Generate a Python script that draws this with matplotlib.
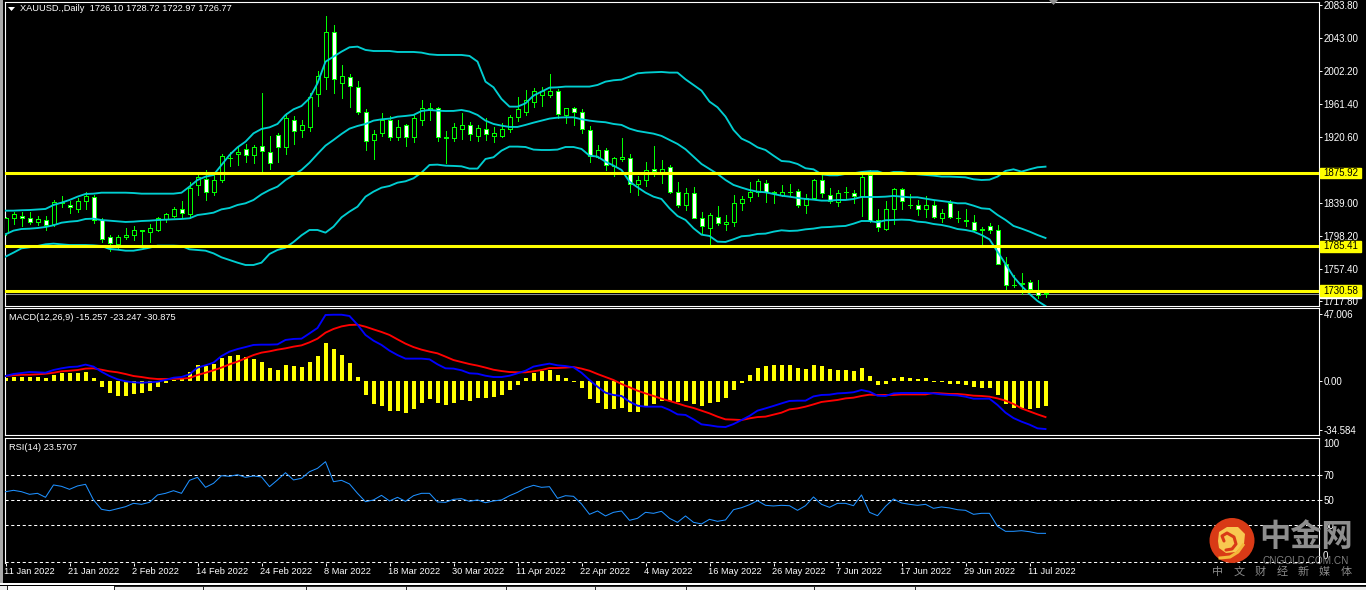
import matplotlib
matplotlib.use("Agg")
import matplotlib.pyplot as plt
from matplotlib.patches import Circle, Polygon, Rectangle
from matplotlib.transforms import ScaledTranslation

plt.rcParams["font.family"] = ["Liberation Sans", "DejaVu Sans"]

########
# Data #
########
opens = [1802, 1820, 1823, 1821, 1816, 1818, 1813, 1839, 1837, 1832,
         1841, 1846, 1818, 1797, 1788, 1797, 1799, 1804, 1803, 1806,
         1819, 1823, 1832, 1825, 1861, 1869, 1852, 1868, 1894, 1899,
         1906, 1898, 1909, 1902, 1923, 1908, 1941, 1929, 1933, 1974,
         1995, 2050, 1987, 1995, 1983, 1951, 1917, 1926, 1941, 1921,
         1935, 1920, 1941, 1954, 1956, 1921, 1919, 1931, 1936, 1922,
         1931, 1922, 1922, 1931, 1945, 1951, 1964, 1973, 1972, 1978,
         1948, 1956, 1951, 1929, 1896, 1904, 1885, 1893, 1894, 1862,
         1867, 1881, 1876, 1883, 1853, 1836, 1851, 1821, 1808, 1822,
         1813, 1815, 1839, 1846, 1853, 1864, 1851, 1849, 1852, 1854,
         1836, 1845, 1867, 1849, 1840, 1852, 1851, 1847, 1874, 1818,
         1807, 1832, 1856, 1837, 1836, 1832, 1837, 1821, 1839, 1821,
         1818, 1816, 1806, 1810, 1806, 1764, 1737, 1739, 1741, 1732,
         1726.10]
closes = [1820, 1825, 1821, 1816, 1819, 1812, 1840, 1840, 1834, 1842,
          1847, 1818, 1795, 1790, 1797, 1800, 1806, 1805, 1808, 1820,
          1825, 1832, 1826, 1857, 1871, 1853, 1868, 1897, 1895, 1902,
          1898, 1908, 1903, 1888, 1908, 1944, 1928, 1936, 1970, 1996,
          2050, 1992, 1996, 1984, 1951, 1916, 1924, 1941, 1920, 1933,
          1921, 1944, 1956, 1956, 1921, 1919, 1933, 1936, 1924, 1932,
          1924, 1925, 1930, 1945, 1955, 1966, 1977, 1977, 1978, 1949,
          1957, 1951, 1931, 1897, 1905, 1886, 1894, 1896, 1862, 1867,
          1880, 1878, 1881, 1853, 1837, 1851, 1821, 1810, 1824, 1814,
          1816, 1839, 1844, 1853, 1866, 1853, 1853, 1853, 1853, 1837,
          1845, 1868, 1851, 1842, 1851, 1853, 1847, 1871, 1817, 1809,
          1832, 1856, 1841, 1836, 1832, 1837, 1822, 1826, 1822, 1820,
          1817, 1806, 1807, 1806, 1764, 1738, 1738, 1740, 1733, 1725,
          1726.77]
highs = [1822, 1828, 1828, 1828, 1823, 1823, 1843, 1847, 1841, 1845,
         1853, 1849, 1820, 1799, 1799, 1808, 1811, 1806, 1813, 1822,
         1827, 1834, 1841, 1865, 1874, 1880, 1874, 1900, 1902, 1909,
         1912, 1911, 1975, 1922, 1926, 1950, 1947, 1942, 1975, 2002,
         2070, 2059, 2010, 1999, 1990, 1955, 1929, 1950, 1946, 1942,
         1937, 1948, 1966, 1963, 1958, 1928, 1938, 1950, 1939, 1935,
         1944, 1933, 1938, 1948, 1970, 1979, 1981, 1982, 1999, 1980,
         1957, 1958, 1955, 1934, 1911, 1907, 1896, 1919, 1900, 1872,
         1890, 1909, 1892, 1886, 1865, 1857, 1859, 1828, 1826, 1835,
         1824, 1849, 1848, 1865, 1869, 1867, 1854, 1861, 1863, 1856,
         1850, 1869, 1874, 1858, 1855, 1859, 1855, 1874, 1880, 1832,
         1841, 1858, 1858, 1850, 1843, 1847, 1843, 1832, 1843, 1829,
         1832, 1824, 1809, 1814, 1812, 1772, 1750, 1752, 1744, 1744,
         1728.72]
lows = [1799, 1813, 1811, 1813, 1812, 1805, 1810, 1834, 1827, 1828,
        1832, 1814, 1791, 1779, 1783, 1794, 1793, 1787, 1791, 1804,
        1816, 1822, 1820, 1820, 1849, 1843, 1849, 1865, 1885, 1886,
        1890, 1889, 1876, 1881, 1890, 1900, 1912, 1921, 1928, 1959,
        1980, 1975, 1969, 1958, 1949, 1905, 1893, 1922, 1917, 1917,
        1909, 1914, 1935, 1942, 1916, 1889, 1915, 1918, 1917, 1915,
        1917, 1914, 1920, 1927, 1940, 1948, 1958, 1959, 1970, 1944,
        1938, 1935, 1926, 1890, 1894, 1880, 1872, 1891, 1853, 1849,
        1860, 1872, 1864, 1851, 1834, 1830, 1820, 1801, 1786, 1812,
        1806, 1810, 1830, 1841, 1848, 1840, 1839, 1848, 1849, 1834,
        1827, 1844, 1846, 1839, 1835, 1845, 1839, 1823, 1816, 1804,
        1806, 1813, 1832, 1833, 1824, 1822, 1820, 1816, 1820, 1816,
        1811, 1804, 1786, 1802, 1763, 1731, 1735, 1726, 1731, 1722,
        1722.97]

bb_upper = [1829.5, 1829.5, 1830, 1830.3, 1831, 1831.6, 1836.5, 1839.4, 1842.7, 1846.8,
            1850.1, 1850.5, 1851.7, 1851.7, 1851.7, 1851.7, 1851.3, 1850.5, 1850.5, 1850.5,
            1850.5, 1850.5, 1851.7, 1859.2, 1867.4, 1871.5, 1873.6, 1886, 1898.3, 1907.8,
            1914.8, 1925.1, 1930.5, 1932.5, 1936.7, 1947.8, 1954.8, 1958.9, 1968.4, 1987,
            2013.7, 2019.9, 2026.1, 2031.5, 2032.3, 2028.2, 2026.9, 2026.9, 2026.9, 2025.7,
            2025.7, 2025.7, 2024.9, 2022.8, 2022, 2022, 2022, 2022, 2020.8, 2013.8,
            1989, 1982, 1967.6, 1958.1, 1958.1, 1962.2, 1971.7, 1976.7, 1981.6, 1982,
            1982.9, 1982.9, 1982.9, 1982.9, 1984.9, 1989, 1990.7, 1991.5, 1995.2, 1999.3,
            2000.2, 2000.6, 2001, 2000.2, 2000.2, 1991.9, 1984.9, 1977.9, 1964.3, 1957.3,
            1945.8, 1929.3, 1918.6, 1914, 1907.8, 1904.5, 1897.5, 1890.9, 1890.1, 1887.2,
            1881.9, 1880.6, 1874.4, 1873.2, 1873.2, 1874.9, 1875.7, 1877.3, 1878.2, 1878.2,
            1874.9, 1877.3, 1877.3, 1875.7, 1874.4, 1873.6, 1872.8, 1871.6, 1871.6, 1871.2,
            1870.7, 1868.3, 1867.4, 1867.8, 1871.6, 1878.6, 1880.6, 1877.7, 1880.6, 1883.1,
            1883.9]
bb_mid = [1800.2, 1804.8, 1806.8, 1807.2, 1808, 1809.3, 1811.4, 1814.6, 1815.9, 1816.7,
          1819.2, 1819.6, 1817.9, 1817.1, 1816.3, 1815.5, 1815.9, 1816.7, 1817.1, 1817.9,
          1818.4, 1818.8, 1819.2, 1820, 1824.1, 1825.4, 1827, 1831.1, 1832.8, 1836.5,
          1838.6, 1842.7, 1849.7, 1855, 1859.2, 1867.4, 1873.6, 1879.8, 1888.8, 1899.6,
          1909.9, 1916.9, 1924.3, 1930.9, 1934.2, 1936.7, 1940.8, 1942.4, 1943.3, 1945.7,
          1946.6, 1947.8, 1952.7, 1954, 1953.1, 1952.7, 1952.8, 1954, 1952, 1947.8,
          1940.8, 1936.7, 1934.6, 1933, 1933, 1935.5, 1938.3, 1940.8, 1943.3, 1944.5,
          1944.9, 1944.9, 1942.5, 1940.8, 1939.6, 1938.8, 1936.7, 1935.5, 1930.9, 1928,
          1926.4, 1924.7, 1921.9, 1916.9, 1912, 1905.4, 1896.3, 1887.2, 1881, 1874.9,
          1867.4, 1861.3, 1858, 1855, 1853, 1852.2, 1850.1, 1848, 1846.8, 1845.2,
          1843.9, 1843.1, 1841.9, 1841.9, 1842.7, 1842.7, 1843.9, 1846.4, 1846.4, 1846.4,
          1846.8, 1847.7, 1846.8, 1846, 1846, 1844.4, 1842.7, 1841.5, 1840.2, 1838.6,
          1838.6, 1835.7, 1832.4, 1831.6, 1824.2, 1818, 1810.6, 1807.3, 1803.6, 1799.4,
          1795.7]
bb_lower = [1772.6, 1777.6, 1782.9, 1784.2, 1785.8, 1787.9, 1788.7, 1787.9, 1787, 1787,
            1787, 1786.6, 1785.8, 1782.1, 1781.3, 1780, 1780, 1781.7, 1783.7, 1786.2,
            1786.2, 1786.2, 1785.8, 1781.7, 1780.9, 1780, 1776.7, 1771.8, 1768.5, 1765.2,
            1762.3, 1762.3, 1765.2, 1775.9, 1780.9, 1783.7, 1790.7, 1799, 1805.6, 1805.6,
            1802.3, 1809.7, 1821.2, 1828.3, 1834.4, 1846.8, 1853, 1857.9, 1860, 1864.1,
            1865.8, 1869.5, 1876.5, 1886, 1886.4, 1885.1, 1884.8, 1884.3, 1881.5, 1881.5,
            1893.4, 1895.5, 1903.7, 1908.7, 1908.7, 1908.2, 1905, 1904.5, 1904.5, 1905,
            1908.2, 1908.2, 1905.8, 1897.5, 1896.3, 1890.1, 1885.2, 1879.8, 1865.4, 1858.4,
            1851.8, 1846.8, 1843.9, 1832.4, 1822.9, 1818, 1807.7, 1799.8, 1798.2, 1791.2,
            1790.8, 1794.1, 1797.8, 1798.6, 1800.7, 1801.1, 1803.5, 1805.2, 1804.4, 1804.8,
            1806.4, 1807.3, 1808.9, 1809.3, 1810.1, 1810.6, 1813.4, 1816.7, 1816.7, 1815.1,
            1817.6, 1818, 1818.4, 1818, 1815.9, 1815.1, 1813, 1811.8, 1809.7, 1806.8,
            1805.6, 1803.6, 1799.4, 1794, 1778.8, 1763.6, 1747.9, 1736.4, 1726.5, 1717.8,
            1711.6]

macd_hist = [1.9, 2.6, 2.8, 3.0, 2.8, 2.3, 4.0, 5.4, 5.8, 5.8,
             6.3, 2.1, -4.2, -8.2, -10.5, -10.5, -8.9, -8.4, -7.0, -4.2,
             -1.2, 0.9, 1.4, 6.5, 11.2, 10.5, 12.2, 15.9, 17.8, 18.2,
             16.6, 15.7, 13.3, 9.1, 7.9, 11.2, 10.5, 9.8, 13.3, 17.5,
             26.7, 22.4, 18.2, 12.6, 2.8, -9.8, -16.1, -17.5, -20.8, -21,
             -22.4, -19.6, -15.4, -12.6, -15.4, -16.8, -15.4, -13.3, -14, -11.9,
             -11.9, -11.2, -9.8, -6.3, -2.8, 2.1, 5.6, 7.0, 7.7, 4.2,
             2.1, -0.5, -4.9, -12.6, -15.4, -19.6, -19.6, -18.9, -21.7, -21.7,
             -17.5, -16.1, -14, -14, -14.7, -14, -16.1, -17.5, -15.4, -14.7,
             -11.9, -6.3, -1.4, 4.2, 9.1, 10.5, 11.2, 11.2, 11.2, 9.1,
             8.4, 11.2, 10.5, 8.4, 7.7, 7.7, 7, 9.1, 3.5, -2.8,
             -2.1, 2.1, 2.8, 2.1, 1.4, 2.1, -0.5, -0.7, -2.1, -2.1,
             -2.8, -4.2, -4.9, -4.9, -9.8, -16.1, -18.9, -18.9, -19.6, -18.9,
             -17.5]
macd_blue = [3.5, 4.9, 5.6, 6.3, 6.1, 5.8, 7.7, 8.9, 9.8, 10.1,
             11.5, 10.1, 6.5, 3.5, 1.2, -0.2, -0.9, -1.2, -0.9, -0.5,
             0.7, 2.3, 2.8, 4.7, 9.4, 11, 12.9, 17.5, 20.6, 22.4,
             23.8, 25.3, 25.5, 25.5, 25.7, 28.8, 29.5, 29.7, 33.4, 37.2,
             46.3, 46.5, 46.5, 45.6, 39.5, 32.3, 28.3, 25.3, 21.3, 18.2,
             15.7, 15.7, 15.7, 15.2, 11.7, 8.9, 8.7, 7.5, 5.4, 5.1,
             3.7, 2.8, 2.8, 3.7, 5.4, 7.2, 10.1, 11.2, 12.2, 11,
             10.5, 9.6, 5.8, 0.7, -4, -8.2, -9.8, -10.5, -14.5, -17.3,
             -18, -18, -18, -20.3, -23.4, -23.8, -26.9, -30.4, -31.1, -32,
             -32.3, -30.2, -27.4, -24.5, -20.8, -19.2, -17.5, -15.7, -14, -13.8,
             -13.8, -10.8, -9.8, -9.6, -8.7, -8.4, -7.9, -6.3, -7.5, -10.3,
             -10.5, -8.7, -8.4, -8.4, -8.4, -8.4, -8.7, -9.4, -9.8, -10.1,
             -11, -12.4, -12.4, -12.4, -16.8, -22.2, -26, -28.5, -30.6, -33.2,
             -33.7]
macd_red = [3.5, 4, 4.4, 4.4, 4.7, 5.1, 5.8, 6.8, 7.2, 7.7,
            8.7, 8.9, 7.9, 6.8, 6.1, 4.9, 3.5, 2.8, 1.9, 1.4,
            1.4, 1.6, 1.6, 2.1, 4.2, 5.8, 7.5, 9.4, 11.7, 13.6,
            15.9, 18.2, 19.9, 20.8, 22, 22.9, 24.1, 25, 27.1, 29.7,
            33.9, 36.5, 38.3, 39.3, 39.5, 38.1, 36.2, 34.4, 32.3, 29.2,
            26.2, 23.8, 22, 20.6, 19.4, 17.1, 14.7, 13.3, 11.9, 10.8,
            9.4, 7.9, 7, 6.3, 6.1, 6.1, 6.8, 7.7, 9.1, 9.1,
            9.4, 9.8, 8.7, 7.2, 4.9, 2.8, 0.7, -2.1, -4.4, -6.8,
            -8.7, -10.5, -12.4, -14, -15.7, -17.5, -18.9, -20.8, -22.7, -25,
            -26.9, -27.1, -27.4, -26.2, -25.3, -25, -23.6, -22.2, -19.9, -19.2,
            -18, -16.4, -14.7, -14, -13.3, -12.2, -11.7, -10.5, -9.6, -9.8,
            -9.8, -9.8, -9.4, -9.4, -9.4, -9.4, -8.4, -8.7, -9.1, -9.1,
            -9.6, -10.3, -10.5, -11, -12.2, -13.8, -16.1, -19.2, -21.3, -23.4,
            -25.3]
rsi = [56.9, 58, 56.9, 54.8, 55.6, 52.4, 62.3, 61.2, 58.8, 61.5,
       62.8, 50.3, 42.8, 41.7, 43.3, 44.9, 47.6, 46.8, 48.4, 54.3,
       55.6, 57.7, 55.6, 66, 68.4, 60.4, 63.6, 69.7, 69.2, 70.5,
       68.4, 69.5, 68.7, 60.9, 66.3, 72.1, 66.3, 67.6, 72.9, 75.6,
       80.9, 64.9, 66, 63.1, 55.6, 48.9, 50.3, 54, 49.5, 52.4,
       49.2, 53.7, 55.6, 55.6, 48.7, 48.4, 50.8, 51.3, 49.2, 50.3,
       48.1, 49.5, 50.3, 53.7, 56.4, 59.9, 62, 60.4, 60.9, 51.6,
       53.7, 53.2, 47.1, 38.8, 41.5, 37.5, 40.4, 41.5, 34, 35.6,
       40.4, 39.6, 41.2, 35.6, 32.4, 37.5, 32.4, 31.1, 34.8, 33.2,
       34.3, 42.5, 44.1, 46.5, 49.7, 46, 45.5, 46, 45.7, 42,
       45.7, 52.7, 46.8, 44.4, 47.6, 47.6, 45.7, 54.3, 40.4, 37.7,
       45.2, 51.1, 47.9, 46.8, 46, 46.8, 43.6, 44.7, 43.9, 42.5,
       42, 38.8, 39.6, 39.6, 29.2, 25.2, 25.2, 25.7, 24.9, 23.6,
       23.57]

bars = list(range(len(opens)))
date_labels = ["11 Jan 2022", "21 Jan 2022", "2 Feb 2022", "14 Feb 2022", "24 Feb 2022",
               "8 Mar 2022", "18 Mar 2022", "30 Mar 2022", "11 Apr 2022", "22 Apr 2022",
               "4 May 2022", "16 May 2022", "26 May 2022", "7 Jun 2022", "17 Jun 2022",
               "29 Jun 2022", "11 Jul 2022"]
date_ticks = list(range(0, 8 * len(date_labels), 8))
price_ticks = [2083.80, 2043.00, 2002.20, 1961.40, 1920.60, 1839.00, 1798.20, 1757.40, 1717.80]
level_prices = [1875.92, 1785.41, 1730.58]
last_price = 1726.77
macd_ticks = [47.006, 0.0, -34.584]
macd_tick_labels = ["47.006", "0.00", "-34.584"]
rsi_levels = [70, 50, 30]

###########
# Layout  #
###########
W, H = 1366, 590
TEXT = "#ffffff"
GREEN = "#00ff00"
CYAN = "#00ced1"
YELLOW = "#ffff00"
FS = 7
FS_SMALL = 6.7


def pane(top, bottom):
    # panes are placed in screen pixels, all share one bar axis
    ax = fig.add_axes([4.5 / W, 1 - bottom / H, 1314 / W, (bottom - top) / H], facecolor="black")
    ax.set_xlim(-0.125, 164.125)
    for s in ax.spines.values():
        s.set_color("white")
        s.set_linewidth(0.8)
    ax.yaxis.tick_right()
    ax.tick_params(axis="y", colors="white", labelcolor=TEXT, labelsize=FS, length=2, width=0.7, pad=1.5)
    ax.tick_params(axis="x", bottom=False, labelbottom=False)
    return ax


fig = plt.figure(figsize=(W / 100, H / 100), dpi=100, facecolor="black")

################
# Price chart  #
################
ax1 = pane(1.5, 306)
ax1.set_ylim(1711.6, 2088.1)
ax1.vlines(bars, lows, highs, color=GREEN, linewidth=0.6, antialiased=False, zorder=2)
bottoms = [min(o, c) for o, c in zip(opens, closes)]
heights = [max(abs(o - c), 1.0) for o, c in zip(opens, closes)]
fills = ["white" if c < o else "black" for o, c in zip(opens, closes)]
ax1.bar(bars, heights, bottom=bottoms, width=0.5, color=fills, edgecolor=GREEN, linewidth=0.6,
        antialiased=False, zorder=3)
for band in (bb_upper, bb_mid, bb_lower):
    ax1.plot(bars, band, color=CYAN, linewidth=1.35, zorder=4)
ax1.axhline(last_price, color="#8a8f94", linewidth=0.75, zorder=1)
for price in level_prices:
    ax1.axhline(price, color=YELLOW, linewidth=2.2, zorder=5)
ax1.set_yticks(price_ticks)
ax1.set_yticklabels([f"{p:.2f}" for p in price_ticks])

# price tags at the right of the scale
ytrans = ax1.get_yaxis_transform()
ax1.add_patch(Rectangle((1.0012, last_price - 5), 0.0315, 10, transform=ytrans, color="white",
                        clip_on=False, zorder=6))
ax1.text(1.0034, last_price, f"{last_price:.2f}", transform=ytrans, color="black", fontsize=FS,
         va="center", clip_on=False, zorder=7)
for price in level_prices:
    ax1.add_patch(Rectangle((1.0012, price - 6.5), 0.0315, 13, transform=ytrans, color=YELLOW,
                            clip_on=False, zorder=8))
    ax1.text(1.0034, price, f"{price:.2f}", transform=ytrans, color="black", fontsize=FS,
             va="center", clip_on=False, zorder=9)

########
# MACD #
########
ax2 = pane(307.5, 435)
ax2.set_ylim(-37.88, 51.56)
ax2.bar(bars, macd_hist, width=0.5, color=YELLOW, antialiased=False, zorder=2)
ax2.plot(bars, macd_red, color="#ff0000", linewidth=1.35, zorder=3)
ax2.plot(bars, macd_blue, color="#0000ff", linewidth=1.35, zorder=4)
ax2.set_yticks(macd_ticks)
ax2.set_yticklabels(macd_tick_labels)

#######
# RSI #
#######
ax3 = pane(437.5, 562.5)
ax3.set_ylim(0.26, 100.26)
ax3.plot(bars, rsi, color="#1e90ff", linewidth=0.75, zorder=3)
for level in rsi_levels + [0.5]:
    ax3.axhline(level, color="white", linewidth=0.75, linestyle=(0, (3, 2.5)), zorder=2)
ax3.spines["bottom"].set_visible(False)
ax3.set_yticks(rsi_levels)
ax3.set_yticklabels([str(v) for v in rsi_levels])
ytrans3 = ax3.get_yaxis_transform()
ax3.text(1.0034, 95, "100", transform=ytrans3, color=TEXT, fontsize=FS, va="center", clip_on=False)
ax3.text(1.0034, 5.5, "0", transform=ytrans3, color=TEXT, fontsize=FS, va="center", clip_on=False)
ax3.set_xticks(date_ticks)
ax3.set_xticklabels(date_labels, ha="left")
ax3.tick_params(axis="x", bottom=True, labelbottom=True, colors="white", labelcolor=TEXT,
                labelsize=FS_SMALL, length=2, width=0.7, pad=1.5)
shift = ScaledTranslation(-1.5 / 100, 0, fig.dpi_scale_trans)
for label in ax3.get_xticklabels():
    label.set_transform(label.get_transform() + shift)

############################
# Window furniture, labels #
############################
ov = fig.add_axes([0, 0, 1, 1], facecolor="none", zorder=20)
ov.set_xlim(0, W)
ov.set_ylim(H, 0)
ov.axis("off")

ov.add_patch(Rectangle((0, 0), 2.5, 584, color="#a9a9a9", lw=0))
ov.add_patch(Polygon([(8, 7), (15, 7), (11.5, 11)], color="white", lw=0))
ov.add_patch(Polygon([(1049, 0), (1058, 0), (1053.5, 5)], color="#8f8f8f", lw=0))
ov.text(20, 8.5, "XAUUSD.,Daily  1726.10 1728.72 1722.97 1726.77", color=TEXT, fontsize=FS_SMALL, va="center")
ov.text(9, 317, "MACD(12,26,9) -15.257 -23.247 -30.875", color=TEXT, fontsize=FS_SMALL, va="center")
ov.text(9, 447, "RSI(14) 23.5707", color=TEXT, fontsize=FS_SMALL, va="center")

# bottom strip of the terminal window
ov.add_patch(Rectangle((0, 583), W, 1.5, color="white", lw=0))
ov.add_patch(Rectangle((0, 585.5), W, 5, color="#efefef", lw=0))
ov.add_patch(Rectangle((7, 585.5), 107, 5, color="white", lw=0))
ov.plot([114, W], [585.5, 585.5], color="#222222", linewidth=0.7)
for sep in [6.5, 114, 203, 306, 406, 506, 594.5, 686, 814, 915]:
    ov.plot([sep, sep], [585.5, 590], color="#222222", linewidth=0.7)

# watermark
ov.add_patch(Circle((1232, 540.5), 22.5, color="#d93a16", lw=0))
ov.add_patch(Polygon([(1218, 541), (1219, 532), (1227, 527), (1238, 527), (1245, 534), (1244, 544),
                      (1236, 552), (1226, 553), (1219, 548)], color="#f8c850", lw=0))
ov.plot([1224, 1222, 1227, 1234, 1236, 1232, 1226], [541, 536, 533, 537, 544, 549, 550],
        color="#d93a16", linewidth=2.2, solid_capstyle="round")
ov.plot([1220, 1230, 1238, 1243], [558, 557, 552, 545], color="#f4b93a", linewidth=2.2)
wm_font = ["Noto Sans CJK SC", "DejaVu Sans"]
ov.text(1306.5, 537, "中金网", color="#8e8e8e", fontsize=22.5, fontweight="bold", family=wm_font,
        ha="center", va="center")
ov.text(1305.5, 560.5, "CNGOLD.COM.CN", color="#7f7f7f", fontsize=7.2, ha="center", va="center",
        family="Liberation Sans")
for i, ch in enumerate("中文财经新媒体"):
    ov.text(1218 + 21.3 * i, 572, ch, color="#8a8a8a", fontsize=8, family=wm_font, ha="center", va="center")

fig.savefig("out.png", dpi=100, facecolor="black")
